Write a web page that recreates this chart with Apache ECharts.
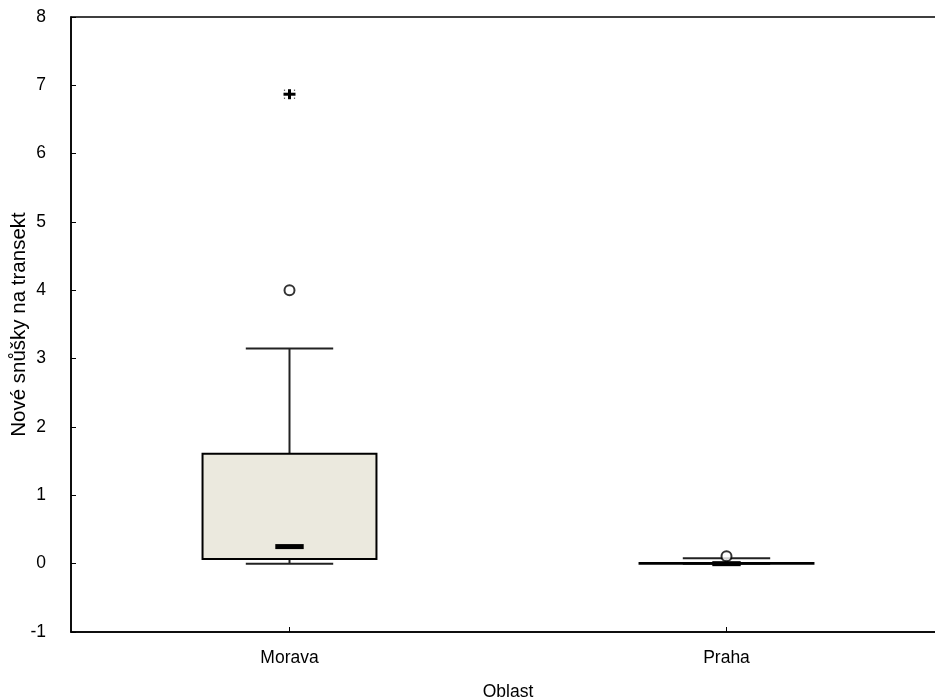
<!DOCTYPE html>
<html><head><meta charset="utf-8">
<script src="https://cdn.jsdelivr.net/npm/echarts@6/dist/echarts.min.js"></script>
<style>html,body{margin:0;padding:0;background:#fff}#c{width:935px;height:700px}</style>
</head><body><div id="c"></div>
<script>
const categories = ['Morava', 'Praha'];
const whiskerLow = [0, 0];
const q1 = [0.07, 0];
const median = [0.25, 0];
const q3 = [1.61, 0.01];
const whiskerHigh = [3.15, 0.08];
const outliers = [[0, 4.0], [1, 0.11]];
const extremes = [[0, 6.87]];
const yMin = -1, yMax = 8, yStep = 1;
const xName = 'Oblast';
const yName = 'Nové snůšky na transekt';

const FONT = 'Liberation Sans, Arial, sans-serif';
const boxData = categories.map((c, i) => [i, whiskerLow[i], q1[i], median[i], q3[i], whiskerHigh[i]]);

const chart = echarts.init(document.getElementById('c'), null, {renderer: 'canvas'});
chart.setOption({
  animation: false,
  backgroundColor: '#fff',
  grid: {left: 71, top: 17, width: 874, height: 615, outerBoundsMode: 'none', containLabel: false,
    show: true, borderColor: '#000', borderWidth: 1.5, backgroundColor: 'transparent'},
  xAxis: {
    type: 'category', data: categories, boundaryGap: true,
    name: xName, nameLocation: 'middle', nameGap: 51, nameMoveOverlap: false,
    nameTextStyle: {color: '#000', fontSize: 17.5, fontFamily: FONT},
    axisLine: {show: true, onZero: false, lineStyle: {color: '#000', width: 1.5}},
    axisTick: {show: true, inside: true, alignWithLabel: true, length: 5, lineStyle: {color: '#000'}},
    axisLabel: {color: '#000', fontSize: 17.5, fontFamily: FONT, margin: 17},
    splitLine: {show: false}
  },
  yAxis: {
    type: 'value', min: yMin, max: yMax, interval: yStep,
    name: yName, nameLocation: 'middle', nameGap: 41, nameMoveOverlap: false,
    nameTextStyle: {color: '#000', fontSize: 20.5, fontFamily: FONT},
    axisLine: {show: true, onZero: false, lineStyle: {color: '#000', width: 1.5}},
    axisTick: {show: true, inside: true, length: 5, lineStyle: {color: '#000'}},
    axisLabel: {color: '#000', fontSize: 17.5, fontFamily: FONT, margin: 25},
    splitLine: {show: false}
  },
  series: [
    {
      type: 'custom',
      data: boxData,
      encode: {x: 0, y: [1, 2, 3, 4, 5]},
      renderItem: function (params, api) {
        const i = api.value(0);
        const lo = api.coord([i, api.value(1)]);
        const a = api.coord([i, api.value(2)]);
        const m = api.coord([i, api.value(3)]);
        const b = api.coord([i, api.value(4)]);
        const hi = api.coord([i, api.value(5)]);
        const band = api.size([1, 0])[0];
        const bw = band * 0.398, cw = band * 0.2, mw = band * 0.065;
        const x = lo[0];
        const ls = {stroke: '#222', lineWidth: 2};
        return {
          type: 'group',
          children: [
            {type: 'line', shape: {x1: x, y1: b[1], x2: x, y2: hi[1]}, style: ls},
            {type: 'line', shape: {x1: x, y1: a[1], x2: x, y2: lo[1]}, style: ls},
            {type: 'line', shape: {x1: x - cw / 2, y1: hi[1], x2: x + cw / 2, y2: hi[1]}, style: ls},
            {type: 'line', shape: {x1: x - cw / 2, y1: lo[1], x2: x + cw / 2, y2: lo[1]}, style: ls},
            {type: 'rect', shape: {x: x - bw / 2, y: b[1], width: bw, height: a[1] - b[1]},
              style: {fill: '#ebe9de', stroke: '#000', lineWidth: 2}},
            {type: 'rect', shape: {x: x - mw / 2, y: m[1] - 2.5, width: mw, height: 5},
              style: {fill: '#000'}}
          ]
        };
      }
    },
    {
      type: 'scatter',
      data: outliers,
      symbol: 'circle', symbolSize: 10,
      itemStyle: {color: '#fff', borderColor: '#000', borderWidth: 2},
      z: 5
    },
    {
      type: 'custom',
      data: extremes,
      encode: {x: 0, y: 1},
      z: 6,
      renderItem: function (params, api) {
        const p = api.coord([api.value(0), api.value(1)]);
        const x = p[0], y = p[1];
        const dot = (dx, dy) => ({type: 'rect', shape: {x: x + dx - 0.6, y: y + dy - 0.6, width: 1.2, height: 1.2}, style: {fill: '#444'}});
        return {
          type: 'group',
          children: [
            {type: 'rect', shape: {x: x - 6, y: y - 1.5, width: 12, height: 3}, style: {fill: '#000'}},
            {type: 'rect', shape: {x: x - 1.5, y: y - 5, width: 3, height: 10}, style: {fill: '#000'}},
            dot(-5, -4), dot(5, -4), dot(-5, 4), dot(5, 4)
          ]
        };
      }
    }
  ]
});
</script>
</body></html>
